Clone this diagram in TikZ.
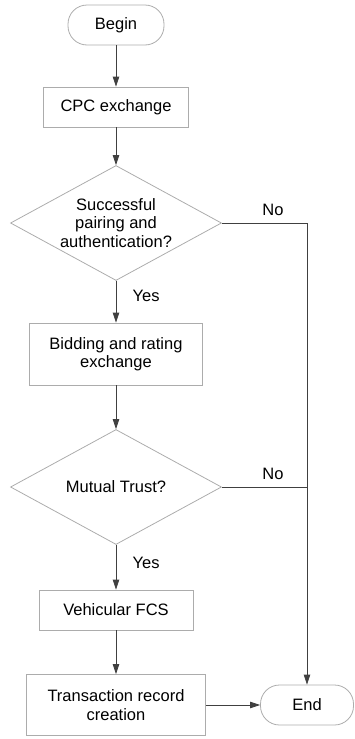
\documentclass[tikz,border=0pt]{standalone}
\usepackage{fontspec}
\setmainfont{Liberation Sans}
\usepackage{tikz}
\usetikzlibrary{arrows.meta,positioning,shapes.geometric}

\begin{document}
\begin{tikzpicture}[
x=1pt, y=-1pt,
every node/.style={font=\fontsize{16.5}{18.5}\selectfont},
term/.style={
	draw=gray!65,
	rounded corners=19pt,
	line width=0.8pt,
	minimum height=40pt
},
proc/.style={
	draw=gray!65,
	line width=0.8pt,
	align=center,
	inner sep=0pt
},
decide/.style={
	diamond,
	aspect=1.85,
	draw=gray!65,
	line width=0.8pt,
	align=center,
	inner sep=0pt,
	minimum width=211pt,
	minimum height=115pt
},
flow/.style={
	draw=black!75,
	line width=0.8pt,
	-{Triangle[length=10pt,width=6.5pt]}
},
]

\useasboundingbox (0,0) rectangle (354,739);

\node[term, minimum width=96pt] (begin) at (116,25) {Begin};
\node[proc, minimum width=145pt, minimum height=40pt] (cpc) at (116,107) {CPC exchange};
\node[decide] (pair) at (116,223) {Successful\\pairing and\\authentication?};
\node[proc, minimum width=173pt, minimum height=62pt] (bid) at (116,354) {Bidding and rating\\exchange};
\node[decide] (trust) at (116,487) {Mutual Trust?};
\node[proc, minimum width=154pt, minimum height=40pt] (fcs) at (116,610) {Vehicular FCS};
\node[proc, minimum width=179pt, minimum height=61pt] (rec) at (116,705) {Transaction record\\creation};
\node[term, minimum width=93pt] (end) at (307,705) {End};

\coordinate (noA) at (end.north |- pair.east);
\coordinate (noB) at (end.north |- trust.east);

\draw[flow] (begin) -- (cpc);
\draw[flow] (cpc) -- (pair);
\draw[flow] (pair) -- node[pos=0.35, right=13pt] {Yes} (bid);
\draw[flow] (bid) -- (trust);
\draw[flow] (trust) -- node[pos=0.4, right=13pt] {Yes} (fcs);
\draw[flow] (fcs) -- (rec);
\draw[flow] (rec) -- (end);

\draw[draw=black!75, line width=0.8pt] (pair) -- node[pos=0.6, above=3.5pt] {No} (noA);
\draw[draw=black!75, line width=0.8pt] (trust) -- node[pos=0.6, above=3.5pt] {No} (noB);
\draw[flow] (noA) -- (end);

\end{tikzpicture}
\end{document}
